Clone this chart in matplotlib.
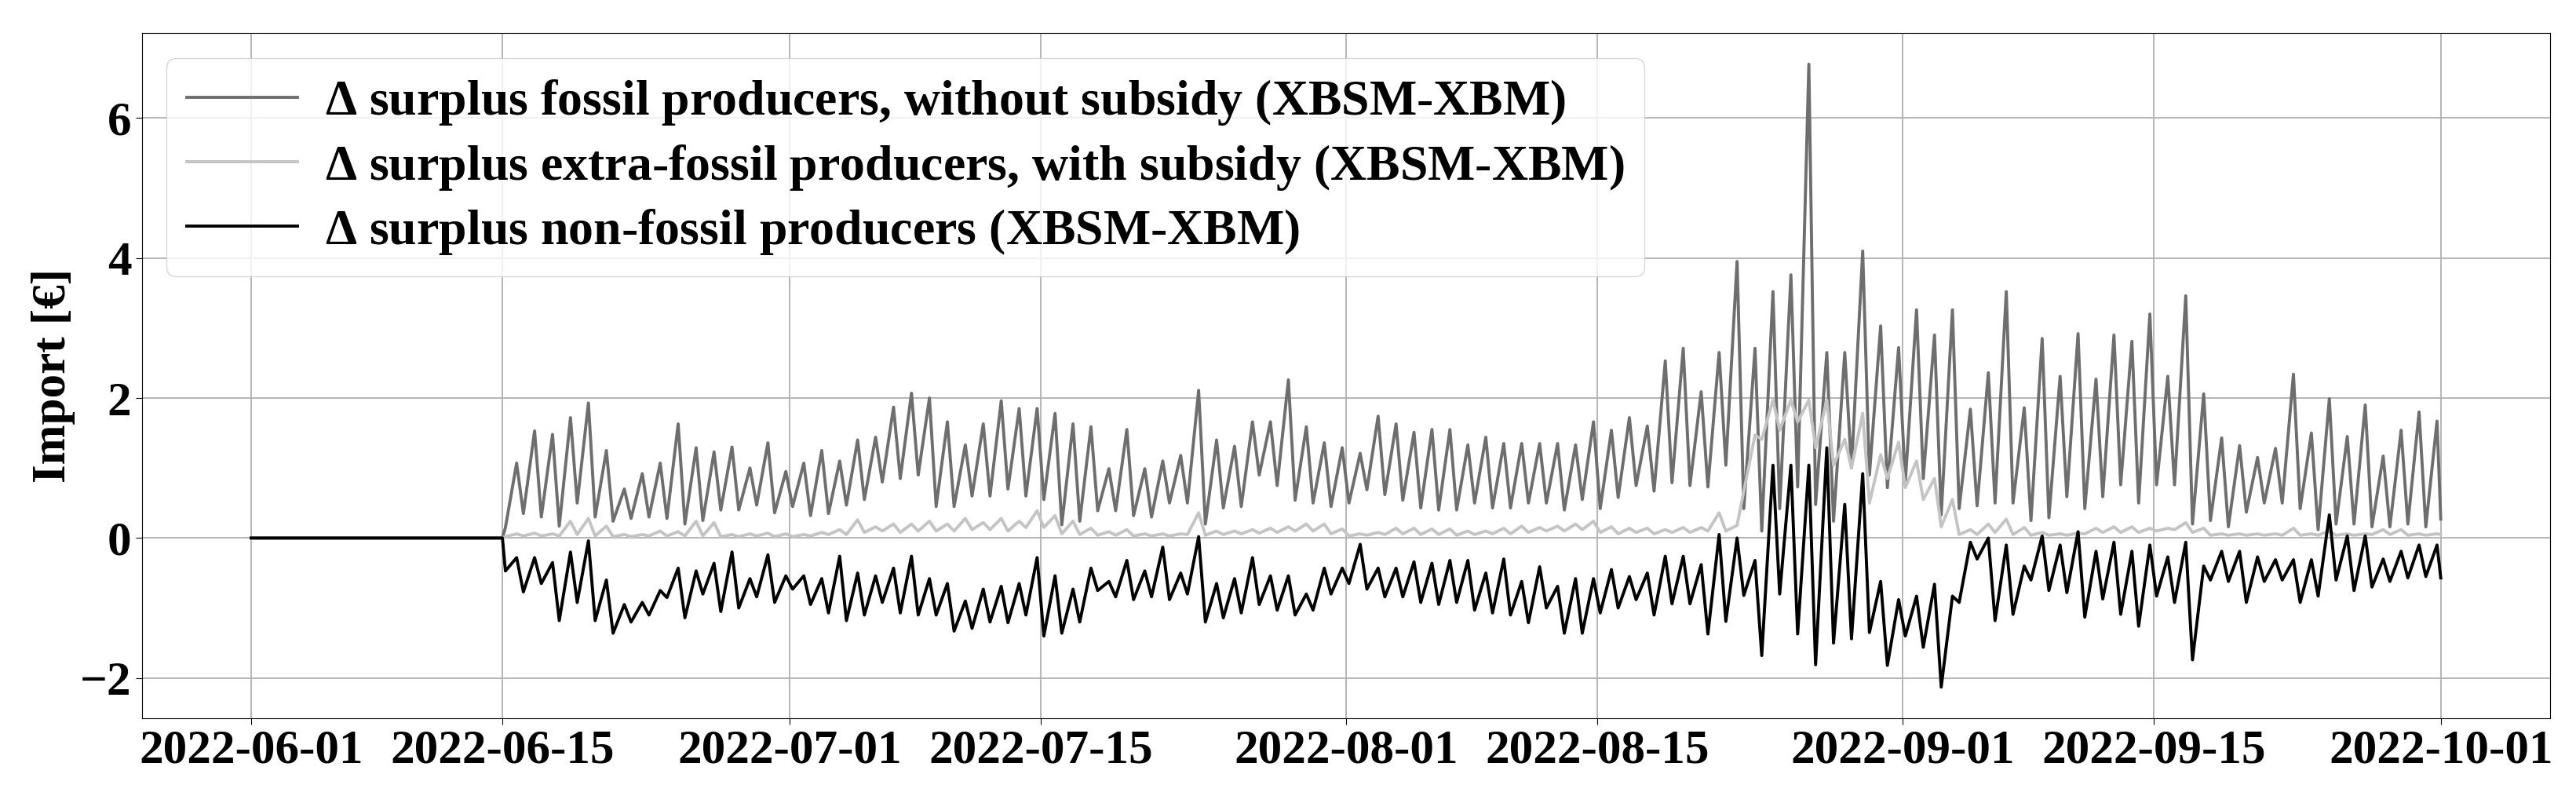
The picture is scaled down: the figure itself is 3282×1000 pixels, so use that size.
import matplotlib
matplotlib.use("Agg")
import matplotlib.pyplot as plt
import matplotlib.dates as mdates
import numpy as np

# one low / high reading per day, 2022-06-15 ... 2022-09-30
fossil_low = [0.15, 0.35, 0.30, 0.17, 0.50, 0.30, 0.24, 0.28, 0.30, 0.28,
              0.20, 0.25, 0.40, 0.40, 0.47, 0.36, 0.45, 0.32, 0.35, 0.47,
              0.55, 0.80, 0.85, 0.90, 0.45, 0.45, 0.60, 0.60, 0.70, 0.60,
              0.55, 0.19, 0.24, 0.39, 0.39, 0.32, 0.30, 0.50, 0.50, 0.20,
              0.43, 0.45, 0.90, 0.75, 0.54, 0.50, 0.45, 0.50, 0.69, 0.62,
              0.54, 0.43, 0.40, 0.40, 0.50, 0.43, 0.43, 0.50, 0.50, 0.40,
              0.55, 0.42, 0.58, 0.75, 0.67, 0.79, 0.75, 0.73, 1.04, 0.42,
              0.10, 0.42, 0.73, 0.48, 0.24, 1.00, 0.90, 0.72, 0.80, 0.85,
              0.33, 0.42, 0.46, 0.50, 0.50, 0.25, 0.29, 0.59, 0.42, 0.59,
              0.76, 0.50, 0.76, 0.76, 0.20, 0.25, 0.16, 0.37, 0.50, 0.50,
              0.42, 0.12, 0.20, 0.20, 0.16, 0.16, 0.20, 0.16]
fossil_high = [1.07, 1.53, 1.48, 1.72, 1.93, 1.25, 0.70, 0.92, 1.07, 1.63,
               1.29, 1.23, 1.30, 1.00, 1.36, 0.95, 1.07, 1.25, 1.10, 1.40,
               1.44, 1.87, 2.07, 2.00, 1.66, 1.33, 1.63, 1.96, 1.85, 1.85,
               1.78, 1.63, 1.59, 0.99, 1.55, 0.99, 1.10, 1.18, 2.11, 1.40,
               1.31, 1.66, 1.66, 2.26, 1.59, 1.36, 1.29, 1.21, 1.74, 1.63,
               1.51, 1.55, 1.55, 1.33, 1.44, 1.35, 1.35, 1.35, 1.35, 1.33,
               1.66, 1.54, 1.72, 1.60, 2.53, 2.71, 2.09, 2.65, 3.95, 2.71,
               3.52, 3.76, 6.77, 2.65, 2.65, 4.10, 3.03, 2.72, 3.26, 2.90,
               3.26, 1.84, 2.36, 3.52, 1.86, 2.85, 2.31, 2.92, 2.27, 2.90,
               2.81, 3.20, 2.31, 3.46, 2.06, 1.43, 1.32, 1.15, 1.28, 2.34,
               1.50, 1.99, 1.45, 1.90, 1.17, 1.54, 1.80, 1.67]

extra_low = [0.02, 0.03, 0.03, 0.03, 0.05, 0.03, 0.02, 0.02, 0.03, 0.03,
             0.03, 0.03, 0.02, 0.02, 0.03, 0.02, 0.02, 0.03, 0.05, 0.05,
             0.08, 0.10, 0.08, 0.10, 0.10, 0.10, 0.12, 0.12, 0.10, 0.15,
             0.15, 0.06, 0.05, 0.04, 0.04, 0.03, 0.03, 0.03, 0.05, 0.04,
             0.05, 0.06, 0.07, 0.08, 0.10, 0.10, 0.06, 0.03, 0.04, 0.05,
             0.06, 0.05, 0.05, 0.04, 0.05, 0.06, 0.06, 0.08, 0.10, 0.10,
             0.12, 0.08, 0.06, 0.08, 0.06, 0.08, 0.08, 0.10, 0.10, 0.67,
             1.41, 1.54, 1.66, 1.29, 1.04, 1.00, 0.50, 0.85, 0.72, 0.55,
             0.16, 0.05, 0.05, 0.08, 0.05, 0.04, 0.04, 0.04, 0.06, 0.08,
             0.08, 0.08, 0.10, 0.12, 0.08, 0.04, 0.04, 0.04, 0.04, 0.04,
             0.04, 0.04, 0.04, 0.04, 0.05, 0.05, 0.04, 0.04]
extra_high = [0.06, 0.07, 0.06, 0.24, 0.28, 0.17, 0.05, 0.05, 0.10, 0.09,
              0.24, 0.22, 0.05, 0.06, 0.07, 0.06, 0.05, 0.08, 0.12, 0.26,
              0.16, 0.20, 0.20, 0.24, 0.20, 0.28, 0.22, 0.28, 0.24, 0.39,
              0.32, 0.24, 0.14, 0.09, 0.12, 0.06, 0.06, 0.06, 0.36, 0.10,
              0.10, 0.12, 0.14, 0.16, 0.20, 0.20, 0.13, 0.06, 0.08, 0.14,
              0.14, 0.13, 0.13, 0.10, 0.10, 0.14, 0.17, 0.15, 0.17, 0.20,
              0.24, 0.16, 0.14, 0.14, 0.12, 0.15, 0.15, 0.36, 0.18, 1.47,
              1.97, 1.97, 1.97, 1.97, 1.41, 1.78, 1.19, 1.37, 1.10, 0.85,
              0.55, 0.12, 0.20, 0.27, 0.15, 0.08, 0.06, 0.07, 0.14, 0.16,
              0.16, 0.14, 0.14, 0.22, 0.14, 0.06, 0.06, 0.06, 0.06, 0.14,
              0.06, 0.10, 0.06, 0.06, 0.12, 0.12, 0.06, 0.06]

nonfossil_low = [-0.47, -0.77, -0.65, -1.18, -0.92, -1.18, -1.36, -1.20, -1.10, -0.85,
                 -1.14, -0.80, -1.05, -1.00, -0.84, -0.92, -0.73, -0.95, -1.07, -1.18,
                 -1.10, -0.92, -1.07, -1.10, -1.10, -1.33, -1.29, -1.20, -1.21, -1.10,
                 -1.40, -1.36, -1.20, -0.75, -0.84, -0.88, -0.84, -0.88, -0.80, -1.20,
                 -1.14, -1.07, -0.95, -1.03, -1.10, -1.03, -0.80, -0.65, -0.73, -0.84,
                 -0.84, -0.92, -0.95, -0.92, -1.03, -1.07, -1.10, -1.21, -1.00, -1.36,
                 -1.36, -1.07, -1.00, -0.88, -1.10, -0.94, -0.94, -1.37, -1.19, -0.82,
                 -1.68, -0.80, -1.37, -1.81, -1.50, -1.44, -1.35, -1.82, -1.40, -1.56,
                 -2.13, -0.92, -0.30, -1.18, -1.09, -0.60, -0.75, -0.78, -1.13, -0.87,
                 -1.09, -1.26, -0.83, -0.92, -1.74, -0.60, -0.62, -0.92, -0.62, -0.60,
                 -0.92, -0.83, -0.60, -0.75, -0.70, -0.62, -0.57, -0.55]
nonfossil_high = [-0.28, -0.28, -0.35, -0.20, -0.04, -0.60, -0.95, -0.92, -0.75, -0.43,
                  -0.47, -0.36, -0.20, -0.58, -0.24, -0.54, -0.54, -0.58, -0.26, -0.50,
                  -0.54, -0.43, -0.26, -0.58, -0.65, -0.90, -0.73, -0.69, -0.65, -0.28,
                  -0.54, -0.73, -0.43, -0.62, -0.32, -0.47, -0.13, -0.50, 0.02, -0.65,
                  -0.58, -0.28, -0.54, -0.54, -0.80, -0.43, -0.43, -0.09, -0.43, -0.43,
                  -0.34, -0.36, -0.32, -0.32, -0.50, -0.30, -0.62, -0.41, -0.69, -0.58,
                  -0.58, -0.45, -0.55, -0.50, -0.26, -0.26, -0.38, 0.05, 0.00, -0.32,
                  1.04, 1.04, 1.04, 1.29, 0.48, 0.92, -0.62, -0.88, -0.83, -0.66,
                  -0.83, -0.06, 0.00, -0.10, -0.40, 0.03, -0.10, 0.09, -0.19, -0.06,
                  -0.19, -0.10, -0.27, -0.06, -0.40, -0.19, -0.19, -0.27, -0.31, -0.31,
                  -0.31, 0.33, 0.03, 0.03, -0.30, -0.19, -0.10, -0.10]

flat_start = "2022-06-01"   # all three deltas are zero until the 15th
data_start = "2022-06-15"
data_end = "2022-10-01"
end_values = [0.27, 0.05, -0.57]

labels = [r"$\mathbf{\Delta}$ surplus fossil producers, without subsidy (XBSM-XBM)",
          r"$\mathbf{\Delta}$ surplus extra-fossil producers, with subsidy (XBSM-XBM)",
          r"$\mathbf{\Delta}$ surplus non-fossil producers (XBSM-XBM)"]
colors = ["#6e6e6e", "#c4c4c4", "black"]
tick_dates = ["2022-06-01", "2022-06-15", "2022-07-01", "2022-07-15", "2022-08-01",
              "2022-08-15", "2022-09-01", "2022-09-15", "2022-10-01"]


def build_series(low, high, end_value):
    days = np.datetime64(data_start, "h") + np.arange(len(low)) * np.timedelta64(24, "h")
    t = np.empty(2 * len(low), dtype="datetime64[h]")
    t[0::2] = days + np.timedelta64(4, "h")
    t[1::2] = days + np.timedelta64(19, "h")
    v = np.empty(2 * len(low))
    v[0::2] = low
    v[1::2] = high
    t = np.concatenate([np.array([flat_start, data_start], dtype="datetime64[h]"), t,
                        np.array([data_end], dtype="datetime64[h]")])
    v = np.concatenate([[0.0, 0.0], v, [end_value]])
    return t, v


plt.rcParams["font.family"] = ["Liberation Serif", "DejaVu Serif"]
plt.rcParams["font.weight"] = "bold"
plt.rcParams["mathtext.fontset"] = "custom"
plt.rcParams["mathtext.bf"] = "Liberation Serif:bold"
plt.rcParams["mathtext.rm"] = "Liberation Serif"

fig, ax = plt.subplots(figsize=(32.82, 10), dpi=100)
fig.subplots_adjust(left=0.055, right=0.99, top=0.958, bottom=0.085)

series = [(fossil_low, fossil_high), (extra_low, extra_high), (nonfossil_low, nonfossil_high)]
for (low, high), end_value, label, color in zip(series, end_values, labels, colors):
    t, v = build_series(low, high, end_value)
    ax.plot(t, v, color=color, linewidth=2.8, label=label)

ax.grid(True, color="#b0b0b0", linewidth=1.3)
ax.set_axisbelow(True)
ax.set_xticks(np.array(tick_dates, dtype="datetime64[D]"))
ax.xaxis.set_major_formatter(mdates.DateFormatter("%Y-%m-%d"))
ax.set_yticks([-2, 0, 2, 4, 6])
ax.tick_params(labelsize=44, length=6)
for lab in ax.get_xticklabels() + ax.get_yticklabels():
    lab.set_fontweight("bold")
ax.set_ylabel("Import [€]", fontsize=44, fontweight="bold")

ax.legend(loc="upper left", fontsize=46, handlelength=2.2, handletextpad=0.55,
          labelspacing=0.3, borderpad=0.4)

fig.savefig("out.png", dpi=100)
